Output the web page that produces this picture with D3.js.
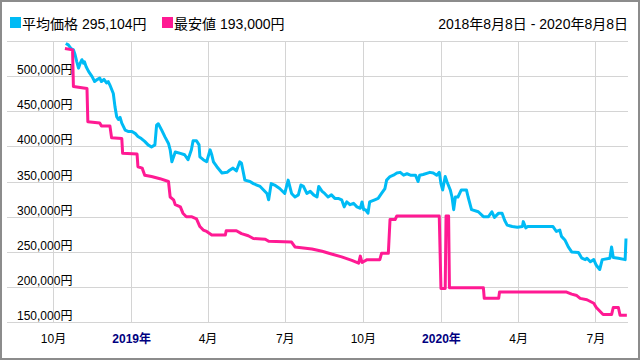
<!DOCTYPE html>
<html><head><meta charset="utf-8">
<script src="https://cdn.jsdelivr.net/npm/d3@7"></script>
<style>
body{margin:0;background:#fff}
svg{display:block}
text{font-family:"Liberation Sans","Noto Sans CJK JP",sans-serif}
</style>
</head><body><svg id="c" width="640" height="360"></svg>
<script>
const seriesNames = ["平均価格", "最安値"];
const legendValues = ["295,104円", "193,000円"];
const rangeLabel = "2018年8月8日 - 2020年8月8日";
const domainDates = ["2018-08-08", "2020-08-08"];
const yTicks = [150000, 200000, 250000, 300000, 350000, 400000, 450000, 500000, 550000];
const xTickDates = ["2018-10-01","2019-01-01","2019-04-01","2019-07-01","2019-10-01","2020-01-01","2020-04-01","2020-07-01"];
const xTickLabels = ["10月","2019年","4月","7月","10月","2020年","4月","7月"];

const avgDates = ["2018-10-16","2018-10-19","2018-10-22","2018-10-25","2018-10-27","2018-10-29","2018-10-31","2018-11-02","2018-11-04","2018-11-06","2018-11-07","2018-11-09","2018-11-12","2018-11-16","2018-11-19","2018-11-21","2018-11-25","2018-11-27","2018-11-30","2018-12-03","2018-12-05","2018-12-07","2018-12-11","2018-12-13","2018-12-15","2018-12-17","2018-12-19","2018-12-21","2018-12-25","2018-12-29","2019-01-02","2019-01-06","2019-01-09","2019-01-13","2019-01-17","2019-01-21","2019-01-25","2019-01-29","2019-01-31","2019-02-02","2019-02-06","2019-02-10","2019-02-14","2019-02-16","2019-02-18","2019-02-22","2019-02-28","2019-03-05","2019-03-09","2019-03-13","2019-03-15","2019-03-19","2019-03-22","2019-03-23","2019-03-27","2019-03-31","2019-04-04","2019-04-06","2019-04-08","2019-04-12","2019-04-18","2019-04-24","2019-04-27","2019-05-01","2019-05-05","2019-05-09","2019-05-11","2019-05-15","2019-05-21","2019-05-25","2019-05-29","2019-06-02","2019-06-06","2019-06-10","2019-06-12","2019-06-15","2019-06-19","2019-06-25","2019-07-01","2019-07-05","2019-07-09","2019-07-13","2019-07-17","2019-07-20","2019-07-23","2019-07-27","2019-07-31","2019-08-04","2019-08-08","2019-08-10","2019-08-14","2019-08-17","2019-08-21","2019-08-25","2019-08-29","2019-09-02","2019-09-06","2019-09-09","2019-09-12","2019-09-16","2019-09-20","2019-09-24","2019-09-28","2019-09-30","2019-10-02","2019-10-04","2019-10-07","2019-10-09","2019-10-15","2019-10-19","2019-10-23","2019-10-27","2019-10-29","2019-11-02","2019-11-06","2019-11-10","2019-11-14","2019-11-18","2019-11-22","2019-11-26","2019-12-02","2019-12-05","2019-12-07","2019-12-11","2019-12-19","2019-12-23","2019-12-27","2019-12-30","2020-01-01","2020-01-03","2020-01-06","2020-01-08","2020-01-12","2020-01-14","2020-01-16","2020-01-18","2020-01-21","2020-01-25","2020-01-31","2020-02-02","2020-02-06","2020-02-14","2020-02-20","2020-02-26","2020-03-01","2020-03-04","2020-03-09","2020-03-13","2020-03-16","2020-03-19","2020-03-25","2020-03-31","2020-04-06","2020-04-07","2020-04-10","2020-04-12","2020-05-12","2020-05-16","2020-05-20","2020-05-22","2020-05-26","2020-05-30","2020-06-03","2020-06-11","2020-06-15","2020-06-19","2020-06-21","2020-06-25","2020-06-29","2020-07-02","2020-07-06","2020-07-09","2020-07-18","2020-07-20","2020-07-22","2020-07-28","2020-08-05","2020-08-06"];
const avgValues = [546000,544000,539000,537000,530000,520000,511000,518000,523000,518000,520000,513000,506000,499000,492000,494000,497000,492000,495000,490000,492000,487000,475000,456000,442000,438000,441000,433000,423000,421000,421000,418000,414000,411000,407000,402000,399000,402000,430000,432000,423000,413000,404000,395000,378000,392000,390000,388000,381000,395000,408000,408000,402000,385000,381000,378000,395000,388000,378000,371000,362000,363000,366000,369000,365000,378000,376000,352000,350000,347000,345000,343000,338000,333000,324000,347000,345000,340000,333000,352000,333000,328000,331000,345000,343000,333000,336000,331000,328000,343000,336000,333000,328000,331000,326000,326000,324000,314000,321000,317000,319000,314000,312000,321000,310000,310000,305000,321000,324000,326000,333000,340000,352000,357000,359000,362000,363000,359000,361000,359000,359000,350000,359000,360000,363000,362000,359000,363000,347000,338000,357000,350000,338000,328000,310000,328000,328000,338000,338000,328000,310000,307000,300000,300000,307000,299000,305000,305000,295000,288000,286000,285000,286000,293000,284000,286000,286000,279000,281000,272000,267000,257000,250000,249000,241000,239000,241000,236000,239000,231000,225000,239000,241000,257000,242000,241000,239000,269000];

const minDates = ["2018-10-15","2018-10-24","2018-10-25","2018-11-10","2018-11-11","2018-11-25","2018-11-27","2018-12-07","2018-12-09","2018-12-21","2018-12-22","2019-01-08","2019-01-09","2019-01-14","2019-01-17","2019-01-25","2019-02-04","2019-02-14","2019-02-16","2019-02-20","2019-02-22","2019-02-28","2019-03-03","2019-03-07","2019-03-13","2019-03-19","2019-03-23","2019-03-27","2019-03-31","2019-04-06","2019-04-22","2019-04-23","2019-05-05","2019-05-11","2019-05-19","2019-05-25","2019-06-08","2019-06-12","2019-07-09","2019-07-13","2019-08-02","2019-08-14","2019-08-25","2019-09-06","2019-09-18","2019-09-26","2019-09-28","2019-09-30","2019-10-06","2019-10-21","2019-10-23","2019-10-31","2019-11-02","2019-11-08","2019-11-10","2019-12-30","2020-01-01","2020-01-06","2020-01-07","2020-01-10","2020-01-11","2020-02-20","2020-02-21","2020-03-09","2020-03-10","2020-05-28","2020-06-03","2020-06-09","2020-06-13","2020-06-21","2020-06-29","2020-07-02","2020-07-06","2020-07-10","2020-07-20","2020-07-22","2020-07-28","2020-07-30","2020-08-07"];
const minValues = [539000,537000,485000,482000,435000,433000,429000,429000,412000,411000,390000,389000,371000,369000,359000,357000,354000,350000,328000,324000,317000,314000,305000,300000,300000,297000,286000,281000,279000,274000,274000,280000,280000,276000,273000,269000,268000,265000,264000,257000,254000,251000,247000,243000,238000,234000,244000,235000,239000,239000,248000,248000,296000,296000,301000,301000,198000,198000,301000,301000,199000,199000,184000,184000,193000,193000,190000,188000,184000,182000,177000,171000,166000,161000,161000,171000,171000,160000,160000];

const BLUE = "#00BBF5", PINK = "#FF1A93", GRID = "#d4d4d4";
const parse = d3.utcParse("%Y-%m-%d");
const svg = d3.select("#c");

svg.append("rect").attr("x",1).attr("y",1).attr("width",638).attr("height",358)
  .attr("fill","#fff").attr("stroke","#8c8c8c").attr("stroke-width",2);

const x = d3.scaleUtc().domain(domainDates.map(parse)).range([7.2, 627.7]);
const y = d3.scaleLinear().domain([150000, 550000]).range([322.3, 40.7]);
const px = v => Math.round(v) + 0.5;

// horizontal gridlines
svg.append("g").selectAll("line").data(yTicks).join("line")
  .attr("x1", 7).attr("x2", 628)
  .attr("y1", d => px(y(d))).attr("y2", d => px(y(d)))
  .attr("stroke", GRID).attr("stroke-width", 1);

// vertical gridlines
svg.append("g").selectAll("line").data(xTickDates.map(parse)).join("line")
  .attr("x1", d => px(x(d))).attr("x2", d => px(x(d)))
  .attr("y1", px(y(550000))).attr("y2", px(y(150000)))
  .attr("stroke", GRID).attr("stroke-width", 1);

// y labels
const fmt = d3.format(",");
svg.append("g").selectAll("text").data(yTicks.filter(v => v < 550000)).join("text")
  .attr("x", 17).attr("y", d => Math.round(y(d)) - 2.5)
  .attr("font-size", 12).attr("fill", "#000")
  .text(d => fmt(d) + "円");

// x axis labels
const xAxis = d3.axisBottom(x).tickValues(xTickDates.map(parse)).tickSize(0)
  .tickFormat((d, i) => xTickLabels[i]);
const gx = svg.append("g").attr("transform", "translate(0,322)").call(xAxis);
gx.select(".domain").remove();
gx.selectAll("text").attr("y", 21).attr("dy", null)
  .attr("font-size", 12)
  .style("font-family", '"Liberation Sans","Noto Sans CJK JP",sans-serif')
  .attr("font-weight", (d, i) => xTickLabels[i].includes("年") ? "bold" : "normal")
  .attr("fill", (d, i) => xTickLabels[i].includes("年") ? "#000080" : "#000");

// lines
const line = d3.line().x(d => x(d.date)).y(d => y(d.v));
const avg = avgDates.map((d, i) => ({date: parse(d), v: avgValues[i]}));
const mn = minDates.map((d, i) => ({date: parse(d), v: minValues[i]}));
svg.append("path").datum(avg).attr("d", line).attr("fill", "none")
  .attr("stroke", BLUE).attr("stroke-width", 3).attr("stroke-linejoin", "round");
svg.append("path").datum(mn).attr("d", line).attr("fill", "none")
  .attr("stroke", PINK).attr("stroke-width", 3).attr("stroke-linejoin", "round");

// legend
const legX = [10, 162], cols = [BLUE, PINK];
seriesNames.forEach((n, i) => {
  svg.append("rect").attr("x", legX[i]).attr("y", 17).attr("width", 11).attr("height", 11).attr("fill", cols[i]);
  svg.append("text").attr("x", legX[i] + 12).attr("y", 29).attr("font-size", 14).attr("fill", "#000")
    .text(n + " " + legendValues[i]);
});
svg.append("text").attr("x", 628).attr("y", 29).attr("text-anchor", "end")
  .attr("font-size", 14).attr("fill", "#000").text(rangeLabel);
</script>
</body></html>
